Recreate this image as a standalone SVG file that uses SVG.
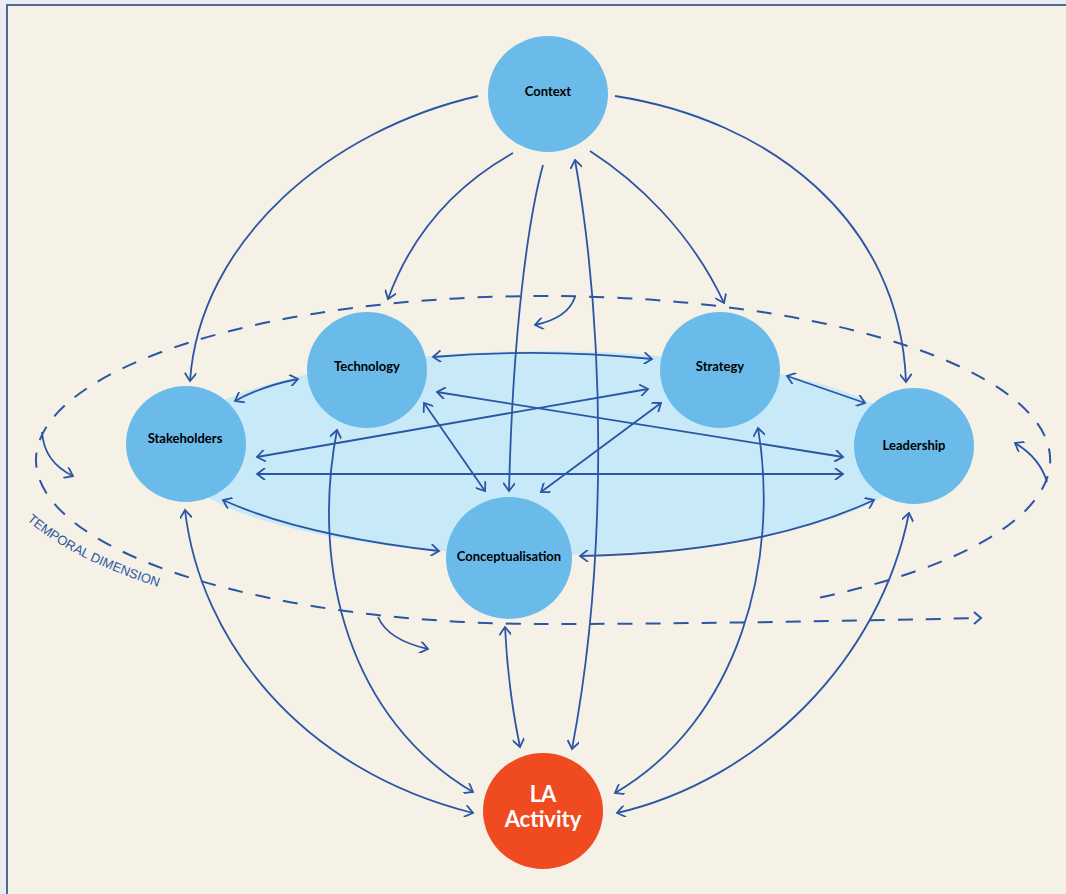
<svg xmlns="http://www.w3.org/2000/svg" width="1066" height="894" viewBox="0 0 1066 894">
  <defs>
    <style>
      .node { fill: #6ABBEA; }
      .la { fill: #F04A21; }
      .lbl { font-family: Lato, "Liberation Sans", sans-serif; font-weight: 700; font-size: 13px; fill: #000; text-anchor: middle; }
      .lbl-la { font-family: Lato, "Liberation Sans", sans-serif; font-weight: 700; font-size: 22px; fill: #FFFFFF; text-anchor: middle; }
      .link { fill: none; stroke: #2B55A5; stroke-width: 1.8; }
      .one { marker-end: url(#arrow); }
      .two { marker-start: url(#arrow); marker-end: url(#arrow); }
      .ring { fill: none; stroke: #2B55A5; stroke-width: 2; stroke-dasharray: 15 13; }
      .temporal { font-family: "Liberation Sans", Arial, sans-serif; font-size: 13px; fill: #2B55A5; }
    </style>
    <marker id="arrow" viewBox="0 0 12 12" refX="10" refY="6" markerWidth="12" markerHeight="12" markerUnits="userSpaceOnUse" orient="auto-start-reverse">
      <path d="M2,0 L10,6 L2,12" fill="none" stroke="#2B55A5" stroke-width="1.8" stroke-dasharray="none"/>
    </marker>
    <path id="temporal-path" d="M 27 520 A 548 178 0 0 0 200 599"/>
  </defs>

  <!-- page and frame -->
  <rect x="0" y="0" width="1066" height="894" fill="#E9EDF2"/>
  <rect x="7" y="5" width="1080" height="910" fill="#F5F1E6" stroke="#1E3C74" stroke-width="1.5"/>

  <!-- shared plane behind the five inner factors -->
  <ellipse id="plane" cx="545" cy="453" rx="375" ry="102" fill="#C8EAF8"/>

  <!-- temporal dimension spiral: right side, over the top, down the left, out along the bottom -->
  <g id="temporal">
    <path class="ring" d="M 820 597.4 A 507 164 0 0 0 543 296 A 507 164 0 0 0 543 624 C 680 624 850 621 981 618"/>
    <path d="M974,612 L981,618 L974,624" fill="none" stroke="#2B55A5" stroke-width="2"/>
    <path class="link one" d="M575,297 Q 568,318 535,325"/>
    <path class="link one" d="M42,432 Q 44,462 73,476"/>
    <path class="link one" d="M1047,482 Q 1040,458 1015,443"/>
    <path class="link one" d="M378,617 Q 388,640 428,649"/>
    <text class="temporal"><textPath href="#temporal-path">TEMPORAL DIMENSION</textPath></text>
  </g>

  <!-- connectors -->
  <g id="connectors">
    <!-- from Context -->
    <path class="link one" d="M478,96 C 330,130 200,240 190,381"/>
    <path class="link one" d="M615,96 C 770,120 900,220 906,382"/>
    <path class="link one" d="M513,153 C 465,180 415,225 388,299"/>
    <path class="link one" d="M590,151 C 635,180 690,230 724,303"/>
    <path class="link one" d="M543,165 C 528,220 513,330 509,491"/>
    <path class="link two" d="M575,160 C 605,330 608,560 572,749"/>
    <!-- within the plane -->
    <path class="link two" d="M433,357 Q 543,348 652,359"/>
    <path class="link two" d="M437,392 L843,457"/>
    <path class="link two" d="M257,457 L648,389"/>
    <path class="link two" d="M257,474 L843,474"/>
    <path class="link two" d="M235,401 Q 262,386 298,379"/>
    <path class="link two" d="M787,376 L865,403"/>
    <path class="link two" d="M424,403 L485,491"/>
    <path class="link two" d="M661,403 L541,492"/>
    <path class="link two" d="M223,500 Q 300,535 439,551"/>
    <path class="link two" d="M874,500 Q 760,553 580,556"/>
    <!-- to LA Activity -->
    <path class="link two" d="M185,510 C 200,640 300,770 473,813"/>
    <path class="link two" d="M337,430 C 310,570 350,720 473,792"/>
    <path class="link two" d="M505,627 Q 508,690 520,747"/>
    <path class="link two" d="M758,428 C 780,560 740,720 615,793"/>
    <path class="link two" d="M909,513 C 880,660 760,780 617,813"/>
  </g>

  <!-- nodes -->
  <g id="context">
    <ellipse class="node" cx="548" cy="94" rx="60" ry="58"/>
    <text class="lbl" x="548" y="96">Context</text>
  </g>
  <g id="technology">
    <ellipse class="node" cx="367" cy="370" rx="60" ry="58"/>
    <text class="lbl" x="367" y="371">Technology</text>
  </g>
  <g id="strategy">
    <ellipse class="node" cx="720" cy="370" rx="60" ry="58"/>
    <text class="lbl" x="720" y="371">Strategy</text>
  </g>
  <g id="stakeholders">
    <ellipse class="node" cx="186" cy="444" rx="60" ry="58"/>
    <text class="lbl" x="185" y="443">Stakeholders</text>
  </g>
  <g id="leadership">
    <ellipse class="node" cx="914" cy="446" rx="60" ry="58"/>
    <text class="lbl" x="914" y="450">Leadership</text>
  </g>
  <g id="conceptualisation">
    <ellipse class="node" cx="509" cy="558" rx="63" ry="61"/>
    <text class="lbl" x="509" y="561">Conceptualisation</text>
  </g>
  <g id="la-activity">
    <ellipse class="la" cx="543" cy="811" rx="60" ry="58"/>
    <text class="lbl-la" x="543" y="802">LA</text>
    <text class="lbl-la" x="543" y="827">Activity</text>
  </g>
</svg>
